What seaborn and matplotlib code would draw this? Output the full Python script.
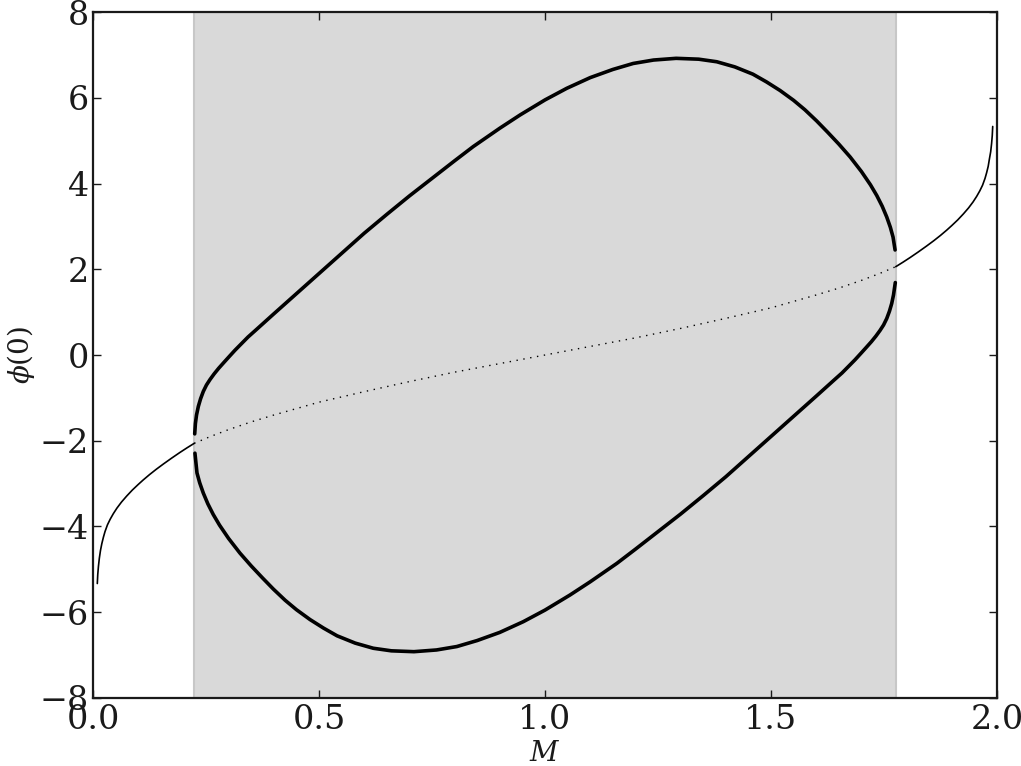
import seaborn as sns
import matplotlib.pyplot as plt
import pandas as pd

# region where the two extra branches exist
band_lo, band_hi = 0.224, 1.776

# thin solid branch, left of the band
left_m = [0.0095, 0.0105, 0.012, 0.014, 0.0165, 0.0195, 0.023, 0.0265, 0.032, 0.038,
          0.045, 0.053, 0.063, 0.0745, 0.087, 0.100, 0.111, 0.125, 0.140, 0.156,
          0.174, 0.192, 0.208, 0.224]
left_phi = [-5.33, -5.12, -4.93, -4.74, -4.56, -4.40, -4.25, -4.12, -3.96, -3.83,
            -3.70, -3.57, -3.43, -3.29, -3.15, -3.02, -2.915, -2.79, -2.665, -2.54,
            -2.405, -2.275, -2.165, -2.06]

# thin solid branch, right of the band
right_m = [1.776, 1.792, 1.808, 1.826, 1.844, 1.860, 1.875, 1.889, 1.900, 1.913,
           1.9255, 1.937, 1.947, 1.955, 1.962, 1.968, 1.9735, 1.977, 1.9805, 1.983,
           1.986, 1.988, 1.9895, 1.9905]
right_phi = [2.06, 2.165, 2.275, 2.405, 2.54, 2.665, 2.79, 2.915, 3.02, 3.15,
             3.29, 3.43, 3.57, 3.70, 3.83, 3.96, 4.12, 4.25, 4.40, 4.56,
             4.74, 4.93, 5.12, 5.33]

# dotted (unstable) branch inside the band
mid_m = [0.224, 0.26, 0.30, 0.35, 0.40, 0.50, 0.60, 0.70, 0.80, 0.90, 1.00,
         1.10, 1.20, 1.30, 1.40, 1.50, 1.60, 1.65, 1.70, 1.74, 1.776]
mid_phi = [-2.06, -1.90, -1.74, -1.56, -1.40, -1.10, -0.855, -0.62, -0.40, -0.20, 0.0,
           0.20, 0.40, 0.62, 0.855, 1.10, 1.40, 1.56, 1.74, 1.90, 2.06]

# thick upper branch
up_m = [0.2250, 0.2265, 0.229, 0.233, 0.238, 0.244, 0.251, 0.259, 0.268, 0.278,
        0.289, 0.301, 0.314, 0.328, 0.343, 0.36, 0.38, 0.40, 0.45, 0.50,
        0.55, 0.60, 0.65, 0.70, 0.75, 0.80, 0.841, 0.90, 0.945, 1.00,
        1.048, 1.10, 1.15, 1.195, 1.24, 1.29, 1.34, 1.38, 1.42, 1.46,
        1.49, 1.52, 1.55, 1.575, 1.601, 1.625, 1.65, 1.675, 1.70, 1.72,
        1.734, 1.746, 1.756, 1.764, 1.770, 1.7745]
up_phi = [-1.84, -1.60, -1.40, -1.20, -1.02, -0.85, -0.70, -0.57, -0.44, -0.31,
          -0.18, -0.04, 0.11, 0.26, 0.42, 0.58, 0.77, 0.96, 1.43, 1.90,
          2.37, 2.84, 3.28, 3.71, 4.12, 4.53, 4.86, 5.29, 5.60, 5.95,
          6.22, 6.47, 6.66, 6.80, 6.88, 6.92, 6.90, 6.84, 6.72, 6.55,
          6.37, 6.17, 5.94, 5.72, 5.46, 5.20, 4.92, 4.62, 4.28, 3.97,
          3.72, 3.47, 3.22, 2.98, 2.75, 2.45]

# thick lower branch
low_m = [0.2255, 0.230, 0.236, 0.244, 0.254, 0.266, 0.28, 0.30, 0.325, 0.35,
         0.375, 0.399, 0.425, 0.45, 0.48, 0.51, 0.54, 0.58, 0.62, 0.66,
         0.71, 0.76, 0.805, 0.85, 0.90, 0.952, 1.00, 1.055, 1.10, 1.159,
         1.20, 1.25, 1.30, 1.35, 1.40, 1.45, 1.50, 1.55, 1.60, 1.62,
         1.64, 1.657, 1.672, 1.686, 1.699, 1.711, 1.722, 1.732, 1.741, 1.749,
         1.756, 1.762, 1.767, 1.771, 1.775]
low_phi = [-2.29, -2.75, -2.98, -3.22, -3.47, -3.72, -3.97, -4.28, -4.62, -4.92,
           -5.20, -5.46, -5.72, -5.94, -6.17, -6.37, -6.55, -6.72, -6.84, -6.90,
           -6.92, -6.88, -6.80, -6.66, -6.47, -6.22, -5.95, -5.60, -5.29, -4.86,
           -4.53, -4.12, -3.71, -3.28, -2.84, -2.37, -1.90, -1.43, -0.96, -0.77,
           -0.58, -0.42, -0.26, -0.11, 0.04, 0.18, 0.31, 0.44, 0.57, 0.70,
           0.85, 1.02, 1.20, 1.40, 1.69]

sns.set_theme(style="ticks")
plt.rcParams["font.family"] = ["DejaVu Serif"]
plt.rcParams["mathtext.fontset"] = "dejavuserif"

fig = plt.figure(figsize=(10.21, 7.66), dpi=100)
ax = fig.add_axes([0.0911, 0.0888, 0.8854, 0.8955])

ax.axvspan(band_lo, band_hi, facecolor="0.85", edgecolor="0.78", lw=1.5, zorder=0)

def draw(m, phi, **kw):
    df = pd.DataFrame({"M": m, "phi": phi})
    sns.lineplot(data=df, x="M", y="phi", sort=False, estimator=None,
                 color="black", ax=ax, **kw)

draw(left_m, left_phi, lw=1.2)
draw(right_m, right_phi, lw=1.2)
draw(mid_m, mid_phi, lw=1.0, linestyle=(0, (1, 4)))
draw(up_m, up_phi, lw=2.6)
draw(low_m, low_phi, lw=2.6)

ax.set_xlim(0, 2)
ax.set_ylim(-8, 8)
ax.set_xticks([0.0, 0.5, 1.0, 1.5, 2.0])
ax.set_yticks(range(-8, 9, 2))
ax.tick_params(direction="in", length=6, width=1, top=True, right=True,
               labelsize=24, colors="k")
ax.tick_params(axis="x", pad=4)
ax.tick_params(axis="y", pad=3)
for s in ax.spines.values():
    s.set_linewidth(1.6)
    s.set_color("k")

ax.set_xlabel("$M$", fontsize=20, labelpad=3, color="k")
ax.set_ylabel(r"$\phi(0)$", fontsize=20, labelpad=2, color="k")

fig.savefig("out.png", dpi=100)
